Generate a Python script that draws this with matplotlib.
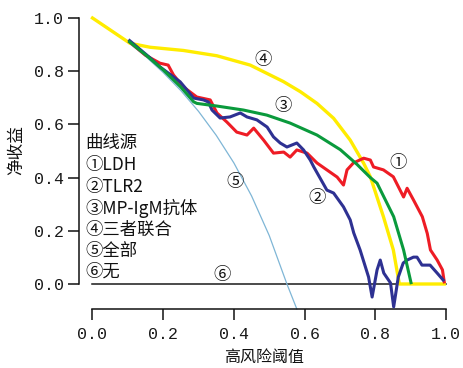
import matplotlib
matplotlib.use("Agg")
import matplotlib.pyplot as plt
from matplotlib import font_manager

plt.rcParams['font.family'] = ['Noto Sans CJK SC', 'DejaVu Sans']

# ---- data ----
ldh_x = [0.105, 0.15, 0.191, 0.214, 0.229, 0.257, 0.295, 0.333, 0.352, 0.380, 0.408, 0.437,
         0.456, 0.484, 0.512, 0.541, 0.559, 0.578, 0.607, 0.635, 0.663, 0.692, 0.710, 0.720,
         0.738, 0.767, 0.786, 0.795, 0.823, 0.851, 0.880, 0.890, 0.908, 0.933, 0.947, 0.956,
         0.975, 0.990, 0.995]
ldh_y = [0.910, 0.860, 0.830, 0.823, 0.786, 0.741, 0.703, 0.692, 0.643, 0.609, 0.571, 0.560,
         0.586, 0.541, 0.492, 0.496, 0.477, 0.504, 0.492, 0.455, 0.429, 0.402, 0.372, 0.429,
         0.455, 0.473, 0.466, 0.440, 0.429, 0.403, 0.327, 0.360, 0.316, 0.253, 0.190, 0.128,
         0.090, 0.053, 0.008]

tlr2_x = [0.105, 0.163, 0.191, 0.248, 0.267, 0.286, 0.314, 0.328, 0.338, 0.361, 0.389, 0.418,
          0.437, 0.465, 0.494, 0.512, 0.531, 0.550, 0.578, 0.597, 0.616, 0.626, 0.663, 0.682,
          0.710, 0.729, 0.739, 0.757, 0.781, 0.791, 0.805, 0.814, 0.824, 0.843, 0.852, 0.865,
          0.879, 0.890, 0.908, 0.918, 0.932, 0.955, 0.975, 0.992]
tlr2_y = [0.915, 0.850, 0.816, 0.760, 0.730, 0.699, 0.692, 0.684, 0.654, 0.624, 0.628, 0.643,
          0.628, 0.617, 0.590, 0.553, 0.530, 0.515, 0.530, 0.504, 0.466, 0.440, 0.353, 0.342,
          0.290, 0.241, 0.192, 0.128, 0.026, -0.049, 0.053, 0.090, 0.041, 0.004, -0.086, 0.026,
          0.079, 0.090, 0.101, 0.101, 0.071, 0.071, 0.041, 0.015]

mp_x = [0.105, 0.150, 0.200, 0.250, 0.286, 0.295, 0.352, 0.427, 0.493, 0.559, 0.635, 0.701,
        0.748, 0.786, 0.805, 0.852, 0.880, 0.901]
mp_y = [0.910, 0.862, 0.805, 0.740, 0.685, 0.679, 0.669, 0.654, 0.635, 0.605, 0.560, 0.505,
        0.450, 0.400, 0.379, 0.253, 0.128, 0.005]

combo_x = [0.0, 0.106, 0.163, 0.257, 0.352, 0.446, 0.540, 0.588, 0.635, 0.682, 0.729, 0.767,
           0.786, 0.823, 0.851, 0.868, 0.995]
combo_y = [1.0, 0.905, 0.890, 0.878, 0.858, 0.823, 0.761, 0.723, 0.679, 0.623, 0.541, 0.454,
           0.403, 0.253, 0.128, 0.0, 0.0]

all_x = [0.0, 0.05, 0.10, 0.15, 0.20, 0.25, 0.30, 0.35, 0.40, 0.45, 0.50, 0.55, 0.578]
all_y = [1.0, 0.957, 0.909, 0.856, 0.795, 0.727, 0.649, 0.559, 0.455, 0.331, 0.182, 0.0, -0.094]

none_x = [0.0, 1.0]
none_y = [0.0, 0.0]

xticks = [0.0, 0.2, 0.4, 0.6, 0.8, 1.0]
yticks = [0.0, 0.2, 0.4, 0.6, 0.8, 1.0]
xtick_labels = ['0.0', '0.2', '0.4', '0.6', '0.8', '1.0']
ytick_labels = ['0.0', '0.2', '0.4', '0.6', '0.8', '1.0']

legend_lines = ['曲线源', '①LDH', '②TLR2', '③MP-IgM抗体', '④三者联合', '⑤全部', '⑥无']

# curve labels: (text, x, y)
curve_labels = [('①', 0.865, 0.455), ('②', 0.636, 0.323), ('③', 0.540, 0.669),
                ('④', 0.483, 0.842), ('⑤', 0.404, 0.383), ('⑥', 0.367, 0.034)]

# tick font: prefer a monospaced Hei-style font if present
names = {f.name for f in font_manager.fontManager.ttflist}
tick_family = [n for n in ['Noto Sans Mono CJK SC', 'Liberation Mono'] if n in names] + ['DejaVu Sans']

# ---- figure ----
W, H = 464, 368
fig = plt.figure(figsize=(W / 100, H / 100), dpi=100)
x0_px, x1_px = 92.5, 446.0   # data 0 and 1 in x
y0_px, y1_px = 284.0, 18.0   # data 0 and 1 in y (from top)
left_px, bottom_px = 79.0, 309.0
ax = fig.add_axes([left_px / W, (H - bottom_px) / H, (x1_px - left_px) / W, (bottom_px - y1_px) / H])
xlo = -(x0_px - left_px) / (x1_px - x0_px)
ylo = -(bottom_px - y0_px) / (y0_px - y1_px)
ax.set_xlim(xlo, 1.0)
ax.set_ylim(ylo, 1.0)

ax.plot(none_x, none_y, color='#1a1a1a', lw=1.1, clip_on=False, zorder=2)
ax.plot(all_x, all_y, color='#7fb6d6', lw=0.9, clip_on=False, zorder=2)
ax.plot(combo_x, combo_y, color='#ffec00', lw=2.4, clip_on=False, zorder=3)
ax.plot(ldh_x, ldh_y, color='#ee1c25', lw=2.2, clip_on=False, zorder=4)
ax.plot(tlr2_x, tlr2_y, color='#2e3192', lw=2.2, clip_on=False, zorder=5)
ax.plot(mp_x, mp_y, color='#0a9a3c', lw=2.2, clip_on=False, zorder=6)

for t, x, y in curve_labels:
    ax.text(x, y, t, fontsize=12.5, ha='center', va='center', color='#111111', zorder=7)

for sp in ['top', 'right']:
    ax.spines[sp].set_visible(False)
ax.spines['left'].set_bounds(0, 1)
ax.spines['bottom'].set_bounds(0, 1)
for sp in ['left', 'bottom']:
    ax.spines[sp].set_linewidth(1.1)
    ax.spines[sp].set_color('#111111')

ax.set_xticks(xticks)
ax.set_xticklabels(xtick_labels)
ax.set_yticks(yticks)
ax.set_yticklabels(ytick_labels)
ax.tick_params(direction='out', length=8, width=1.1, color='#111111', labelsize=12,
               labelcolor='#1a1a1a')
ax.tick_params(axis='x', pad=5)
ax.tick_params(axis='y', pad=3)
for lab in ax.get_xticklabels() + ax.get_yticklabels():
    lab.set_family(tick_family)

line_y = [143, 165, 187, 208, 230, 251, 272]
for t, yp in zip(legend_lines, line_y):
    fig.text(85 / W, 1 - yp / H, t, fontsize=12.5, ha='left', va='center', color='#111111')

fig.text(264 / W, 1 - 357 / H, '高风险阈值', fontsize=11.5, ha='center', va='center', color='#111111')
fig.text(17 / W, 1 - 150 / H, '净收益', fontsize=12, ha='center', va='center', rotation=90,
         color='#111111')

fig.savefig('out.png', dpi=100)
